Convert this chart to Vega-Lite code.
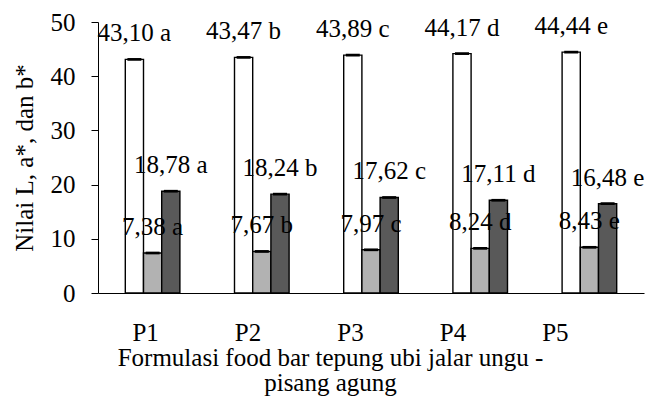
{
  "$schema": "https://vega.github.io/schema/vega-lite/v6.json",
  "width": 546,
  "height": 271,
  "autosize": {"type": "none"},
  "padding": {"left": 98, "top": 22, "right": 2, "bottom": 117},
  "background": "white",
  "config": {
    "view": {"stroke": null},
    "font": "'Liberation Serif', 'Times New Roman', Times, serif",
    "text": {"font": "'Liberation Serif', 'Times New Roman', Times, serif"},
    "axis": {"labelFont": "'Liberation Serif', 'Times New Roman', Times, serif", "titleFont": "'Liberation Serif', 'Times New Roman', Times, serif", "labelColor": "black", "titleColor": "black", "domainColor": "black", "tickColor": "black", "labelFontSize": 25, "titleFontSize": 25, "titleFontWeight": "normal", "grid": false}
  },
  "data": {
    "values": [
      {"group": "P1", "series": "L", "value": 43.10, "lo": 42.85, "hi": 43.35, "label": "43,10 a"},
      {"group": "P1", "series": "a", "value": 7.38, "lo": 7.13, "hi": 7.63, "label": "7,38 a"},
      {"group": "P1", "series": "b", "value": 18.78, "lo": 18.53, "hi": 19.03, "label": "18,78 a"},
      {"group": "P2", "series": "L", "value": 43.47, "lo": 43.22, "hi": 43.72, "label": "43,47 b"},
      {"group": "P2", "series": "a", "value": 7.67, "lo": 7.42, "hi": 7.92, "label": "7,67 b"},
      {"group": "P2", "series": "b", "value": 18.24, "lo": 17.99, "hi": 18.49, "label": "18,24 b"},
      {"group": "P3", "series": "L", "value": 43.89, "lo": 43.64, "hi": 44.14, "label": "43,89 c"},
      {"group": "P3", "series": "a", "value": 7.97, "lo": 7.72, "hi": 8.22, "label": "7,97 c"},
      {"group": "P3", "series": "b", "value": 17.62, "lo": 17.37, "hi": 17.87, "label": "17,62 c"},
      {"group": "P4", "series": "L", "value": 44.17, "lo": 43.92, "hi": 44.42, "label": "44,17 d"},
      {"group": "P4", "series": "a", "value": 8.24, "lo": 7.99, "hi": 8.49, "label": "8,24 d"},
      {"group": "P4", "series": "b", "value": 17.11, "lo": 16.86, "hi": 17.36, "label": "17,11 d"},
      {"group": "P5", "series": "L", "value": 44.44, "lo": 44.19, "hi": 44.69, "label": "44,44 e"},
      {"group": "P5", "series": "a", "value": 8.43, "lo": 8.18, "hi": 8.68, "label": "8,43 e"},
      {"group": "P5", "series": "b", "value": 16.48, "lo": 16.23, "hi": 16.73, "label": "16,48 e"}
    ]
  },
  "encoding": {
    "x": {
      "field": "group",
      "type": "nominal",
      "scale": {"paddingInner": 0.5, "paddingOuter": 0.25},
      "axis": {
        "labelAngle": 0,
        "ticks": false,
        "labelBaseline": "alphabetic",
        "labelPadding": 47,
        "labelOffset": {"expr": "-7 - 27*datum.index"},
        "title": ["Formulasi food bar tepung ubi jalar ungu -", "pisang agung"],
        "titleBaseline": "alphabetic",
        "titleX": 232,
        "titleY": 72,
        "titleLineHeight": 25
      }
    },
    "xOffset": {"field": "series", "type": "nominal", "sort": ["L", "a", "b"], "scale": {"paddingInner": 0, "paddingOuter": 0}}
  },
  "layer": [
    {
      "mark": {"type": "bar", "stroke": "black", "strokeWidth": 1.4},
      "encoding": {
        "y": {
          "field": "value",
          "type": "quantitative",
          "scale": {"domain": [0, 50], "nice": false},
          "axis": {"values": [0, 10, 20, 30, 40, 50], "tickSize": 7, "labelPadding": 16, "title": "Nilai L, a*, dan b*", "titlePadding": 13}
        },
        "fill": {"field": "series", "type": "nominal", "scale": {"domain": ["L", "a", "b"], "range": ["#ffffff", "#b2b2b2", "#595959"]}, "legend": null}
      }
    },
    {
      "mark": {"type": "bar", "color": "black", "width": 14},
      "encoding": {
        "y": {"field": "lo", "type": "quantitative"},
        "y2": {"field": "hi"}
      }
    },
    {
      "mark": {"type": "text", "baseline": "alphabetic", "dy": -18, "fontSize": 25, "color": "black", "font": "'Liberation Serif', 'Times New Roman', Times, serif"},
      "encoding": {
        "y": {"field": "value", "type": "quantitative"},
        "text": {"field": "label"}
      }
    }
  ]
}
